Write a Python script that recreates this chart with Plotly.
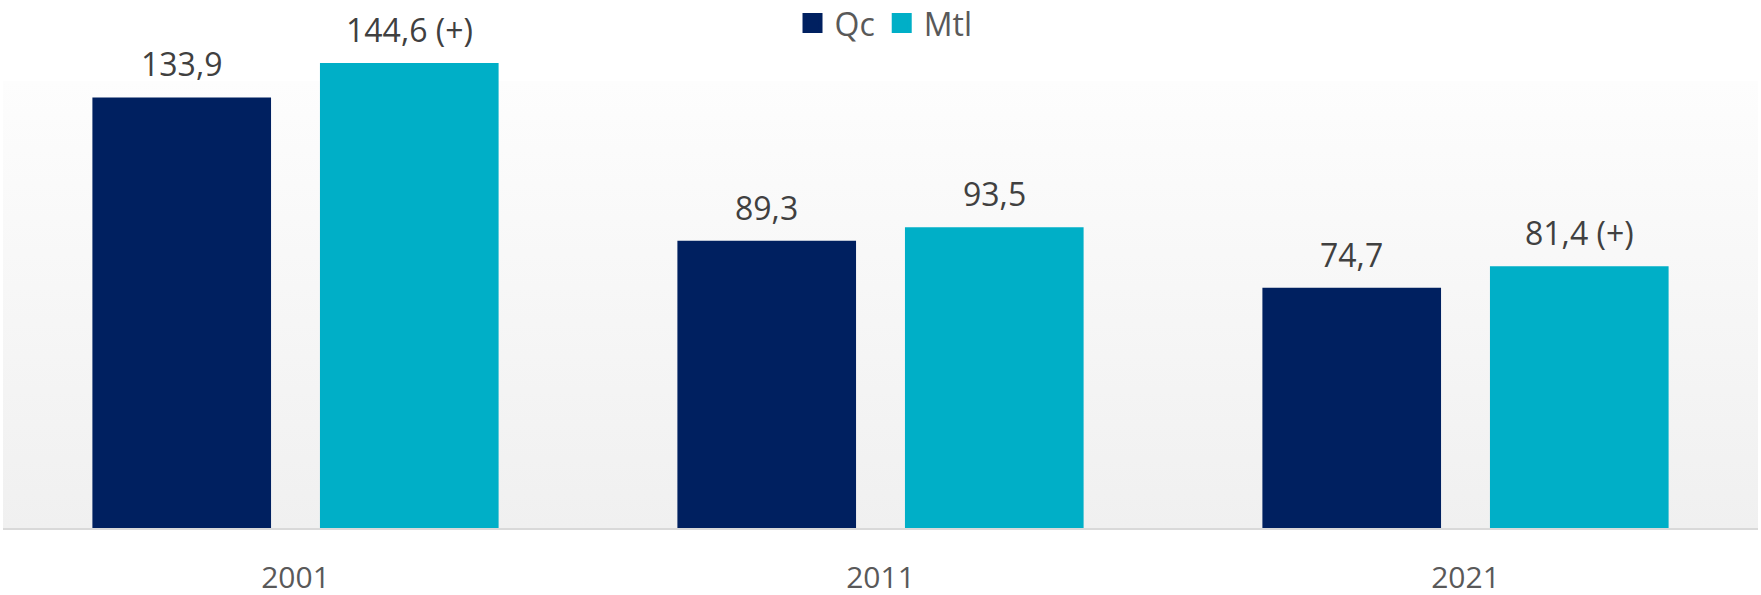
import base64

import plotly.graph_objects as go

YEARS = ["2001", "2011", "2021"]
QC = [133.9, 89.3, 74.7]
MTL = [144.6, 93.5, 81.4]
MTL_NOTES = ["(+)", "", "(+)"]

NAVY = "#002060"
TEAL = "#00AFC7"
FONT = "Open Sans, Arial, sans-serif"
BARGAP = 0.222
BARGROUPGAP = 0.215
Y_MAX = 164.2
BG_TOP = 139.1


def fmt(v: float, note: str = "") -> str:
    s = f"{v:.1f}".replace(".", ",")
    return f"{s} {note}" if note else s


# fond dégradé de la zone de tracé (blanc -> gris clair)
svg = (
    '<svg xmlns="http://www.w3.org/2000/svg" width="100" height="100" '
    'viewBox="0 0 100 100" preserveAspectRatio="none">'
    '<defs><linearGradient id="g" x1="0" y1="0" x2="0" y2="1">'
    '<stop offset="0" stop-color="#fdfdfd"/>'
    '<stop offset="1" stop-color="#f0f0f0"/>'
    "</linearGradient></defs>"
    '<rect width="100" height="100" fill="url(#g)"/></svg>'
)
bg_uri = "data:image/svg+xml;base64," + base64.b64encode(svg.encode()).decode()

fig = go.Figure()
for name, vals, color in [("Qc", QC, NAVY), ("Mtl", MTL, TEAL)]:
    fig.add_trace(
        go.Bar(
            x=YEARS,
            y=vals,
            name=name,
            marker=dict(color=color, line=dict(width=0)),
            showlegend=False,
            hoverinfo="skip",
        )
    )

# étiquettes de valeurs au-dessus des barres
half = (1 - BARGAP) / 4
labels = [
    (-half, QC, [fmt(v) for v in QC]),
    (half, MTL, [fmt(v, n) for v, n in zip(MTL, MTL_NOTES)]),
]
for dx, vals, texts in labels:
    for i, (v, t) in enumerate(zip(vals, texts)):
        fig.add_annotation(
            x=i + dx,
            y=v,
            xref="x",
            yref="y",
            text=t,
            showarrow=False,
            yanchor="bottom",
            yshift=10,
            font=dict(size=32, color="#404040", family=FONT),
        )

# légende avec de plus gros carrés
for name, color in [("Qc", NAVY), ("Mtl", TEAL)]:
    fig.add_trace(
        go.Scatter(
            x=[None],
            y=[None],
            mode="markers",
            name=name,
            marker=dict(symbol="square", size=16, color=color,
                        line=dict(color=color, width=4)),
        )
    )

fig.add_layout_image(
    dict(
        source=bg_uri,
        xref="paper",
        yref="y",
        x=0,
        y=BG_TOP,
        sizex=1,
        sizey=BG_TOP,
        sizing="stretch",
        xanchor="left",
        yanchor="top",
        layer="below",
    )
)

fig.update_layout(
    width=1761,
    height=595,
    barmode="group",
    bargap=BARGAP,
    bargroupgap=BARGROUPGAP,
    margin=dict(l=3, r=3, t=0, b=67, autoexpand=False),
    paper_bgcolor="white",
    plot_bgcolor="rgba(0,0,0,0)",
    font=dict(family=FONT, color="#595959"),
    legend=dict(
        orientation="h",
        x=0.502,
        xanchor="center",
        y=1.008,
        yanchor="top",
        font=dict(size=32, color="#595959"),
        bgcolor="rgba(0,0,0,0)",
        itemwidth=34,
    ),
)
fig.update_xaxes(
    type="category",
    range=[-0.5, 2.5],
    automargin=False,
    showgrid=False,
    showline=True,
    linecolor="#d9d9d9",
    linewidth=2,
    ticks="outside",
    ticklen=22,
    tickcolor="rgba(0,0,0,0)",
    tickfont=dict(size=30, color="#595959"),
)
fig.update_yaxes(
    range=[0, Y_MAX],
    visible=False,
    showgrid=False,
    zeroline=False,
)

fig.write_html(
    "out.html",
    config={"displayModeBar": False},
    post_script="document.body.style.margin='0';",
)
